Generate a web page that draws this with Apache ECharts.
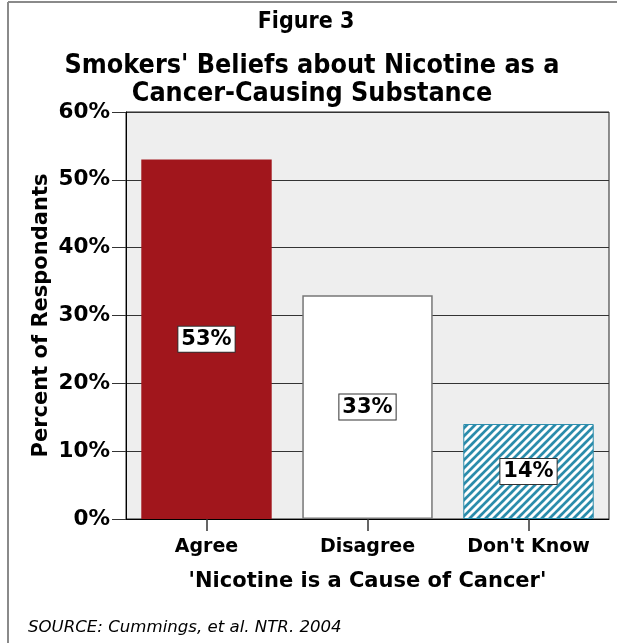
<!DOCTYPE html>
<html>
<head>
<meta charset="utf-8">
<script src="https://cdn.jsdelivr.net/npm/echarts@6/dist/echarts.min.js"></script>
<style>
  html, body { margin: 0; padding: 0; background: #fff; }
  #chart { width: 617px; height: 643px; }
</style>
</head>
<body>
<div id="chart"></div>
<script>
// data
const categories = ['Agree', 'Disagree', "Don't Know"];
const percents = [53, 33, 14];
const yTicks = [0, 10, 20, 30, 40, 50, 60];

const FONT = '"DejaVu Sans", Verdana, sans-serif';
const TITLE_FONT = '"DejaVu Sans Condensed", "DejaVu Sans", sans-serif';

// diagonal hatch for the "Don't Know" bar
const tile = document.createElement('canvas');
tile.width = 8; tile.height = 8;
const tc = tile.getContext('2d');
tc.fillStyle = '#2b8cab';
tc.fillRect(0, 0, 8, 8);
tc.strokeStyle = '#ffffff';
tc.lineWidth = 3;
tc.beginPath();
tc.moveTo(-2, 2); tc.lineTo(2, -2);
tc.moveTo(0, 8); tc.lineTo(8, 0);
tc.moveTo(6, 10); tc.lineTo(10, 6);
tc.stroke();

const barStyles = [
  { color: '#a1161c', borderColor: '#a1161c', borderWidth: 0 },
  { color: '#ffffff', borderColor: '#777777', borderWidth: 1.5 },
  { color: { image: tile, repeat: 'repeat' }, borderColor: '#2b8cab', borderWidth: 1 }
];

const chart = echarts.init(document.getElementById('chart'), null, { renderer: 'canvas' });

const option = {
  animation: false,
  backgroundColor: '#ffffff',
  grid: {
    left: 126, top: 112, width: 483, height: 407,
    show: true, backgroundColor: '#eeeeee', borderColor: '#222', borderWidth: 1
  },
  graphic: [
    { type: 'line', shape: { x1: 8, y1: 2, x2: 8, y2: 643 }, style: { stroke: '#8a8a8a', lineWidth: 2 } },
    { type: 'line', shape: { x1: 8, y1: 2, x2: 617, y2: 2 }, style: { stroke: '#8a8a8a', lineWidth: 2 } },
    { type: 'text', x: 306, y: 22,
      style: { text: 'Figure 3', font: 'bold 23px ' + TITLE_FONT, fill: '#000',
               align: 'center', verticalAlign: 'middle', textAlign: 'center', textVerticalAlign: 'middle' } },
    { type: 'text', x: 312, y: 66,
      style: { text: "Smokers' Beliefs about Nicotine as a", font: 'bold 26.7px ' + TITLE_FONT, fill: '#000',
               align: 'center', verticalAlign: 'middle', textAlign: 'center', textVerticalAlign: 'middle' } },
    { type: 'text', x: 312, y: 94,
      style: { text: 'Cancer-Causing Substance', font: 'bold 26.7px ' + TITLE_FONT, fill: '#000',
               align: 'center', verticalAlign: 'middle', textAlign: 'center', textVerticalAlign: 'middle' } },
    { type: 'text', x: 28, y: 628,
      style: { text: 'SOURCE: Cummings, et al. NTR. 2004', font: 'italic 16.6px ' + FONT, fill: '#000',
               align: 'left', verticalAlign: 'middle', textAlign: 'left', textVerticalAlign: 'middle' } }
  ],
  xAxis: {
    type: 'category',
    data: categories,
    name: "'Nicotine is a Cause of Cancer'",
    nameLocation: 'middle',
    nameGap: 52,
    nameMoveOverlap: false,
    nameTextStyle: { fontFamily: FONT, fontWeight: 'bold', fontSize: 21, color: '#000', verticalAlign: 'top' },
    axisLine: { show: true, lineStyle: { color: '#000', width: 1 } },
    axisTick: { show: true, alignWithLabel: true, length: 12, lineStyle: { color: '#333', width: 1.5 } },
    axisLabel: { margin: 19, fontFamily: FONT, fontWeight: 'bold', fontSize: 19, color: '#000' },
    splitLine: { show: false }
  },
  yAxis: {
    type: 'value',
    min: yTicks[0],
    max: yTicks[yTicks.length - 1],
    interval: 10,
    name: 'Percent of Respondants',
    nameLocation: 'middle',
    nameGap: 84,
    nameMoveOverlap: false,
    nameRotate: 90,
    nameTextStyle: { fontFamily: FONT, fontWeight: 'bold', fontSize: 21, color: '#000', verticalAlign: 'middle' },
    axisLine: { show: true, lineStyle: { color: '#000', width: 1 } },
    axisTick: { show: true, length: 14, lineStyle: { color: '#333', width: 1 } },
    axisLabel: { margin: 16, fontFamily: FONT, fontWeight: 'bold', fontSize: 21.5, color: '#000',
                 formatter: v => v + '%' },
    splitLine: { show: true, lineStyle: { color: '#333', width: 1 } }
  },
  series: [{
    type: 'bar',
    barWidth: '81%',
    data: percents.map((v, i) => ({ value: v, itemStyle: barStyles[i] })),
    label: {
      show: true,
      position: 'inside',
      formatter: '{c}%',
      fontFamily: FONT,
      fontWeight: 'bold',
      fontSize: 21,
      color: '#000',
      backgroundColor: '#ffffff',
      borderColor: '#333',
      borderWidth: 1,
      padding: [3, 3, 1, 3]
    }
  }]
};

chart.setOption(option);
</script>
</body>
</html>
